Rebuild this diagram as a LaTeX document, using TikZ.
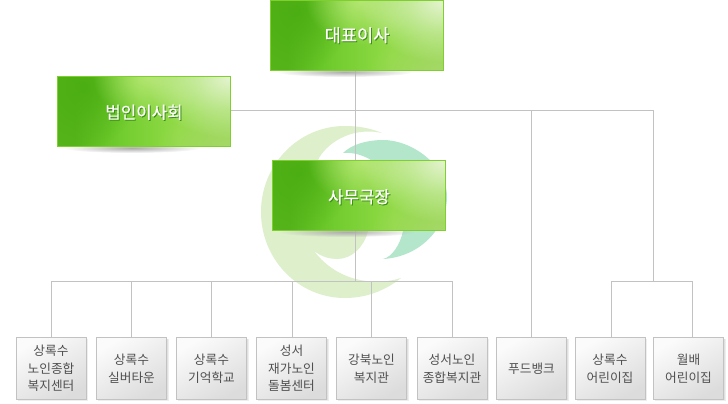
\documentclass[tikz,border=0pt]{standalone}
\usepackage{fontspec}
\setmainfont{Noto Sans CJK KR}
\newfontface\titlefont[FakeBold=0.5]{Noto Sans CJK KR}
\usetikzlibrary{fadings,backgrounds,calc}
\definecolor{linegray}{HTML}{C2C2C2}
\definecolor{logogreen}{HTML}{DDEFCB}
\definecolor{logoteal}{HTML}{B4E6CC}
\definecolor{gdark}{HTML}{4BAE13}
\definecolor{gleft}{HTML}{55B41A}
\definecolor{gaa}{HTML}{6FCB2D}
\definecolor{gbb}{HTML}{92DB47}
\definecolor{gcc}{HTML}{96D84A}
\definecolor{gmid}{HTML}{B4E672}
\definecolor{gpale}{HTML}{E6F4D2}
\definecolor{gside}{HTML}{A6D869}
\definecolor{gborder}{HTML}{7FD02F}
\definecolor{smalltext}{HTML}{505050}
\definecolor{tshadow}{HTML}{3F8F18}
\definecolor{smalltop}{HTML}{FBFBFB}
\definecolor{smallbot}{HTML}{DCDCDC}
\pgfdeclarehorizontalshading{gbase}{100bp}{color(0bp)=(gleft);color(30bp)=(gleft);color(42bp)=(gaa);color(60bp)=(gbb);color(100bp)=(gcc)}
\tikzfading[name=softfade, inner color=transparent!0, outer color=transparent!100]
\newcommand{\shtext}[1]{\rlap{\kern1pt\lower1pt\hbox{\color{tshadow}#1}}#1}
\tikzset{
  x=1pt,y=-1pt,
  greenbox/.style={anchor=north west,minimum width=173pt,minimum height=70pt,inner sep=0pt,draw=gborder,line width=1pt,text=white,
    font=\fontsize{16.8}{20}\titlefont,
    path picture={
      \shade[shading=gbase] (path picture bounding box.south west) rectangle (path picture bounding box.north east);
      \fill[gdark,path fading=softfade] ([shift={(26,10)}]path picture bounding box.north west) ellipse [x radius=55pt,y radius=62pt];
      \fill[gmid,path fading=softfade] ([shift={(90,0)}]path picture bounding box.north west) ellipse [x radius=55pt,y radius=45pt];
      \fill[gside,path fading=softfade] (path picture bounding box.south east) ellipse [x radius=75pt,y radius=40pt];
      \fill[gpale,path fading=softfade] (path picture bounding box.north east) ellipse [x radius=85pt,y radius=62pt];
    }},
  smallbox/.style={anchor=north west,minimum width=70pt,minimum height=62pt,inner sep=0pt,draw=linegray,line width=1pt,
    top color=smalltop,bottom color=smallbot,shading angle=30,text=smalltext,align=center,
    font=\fontsize{12.7}{17.5}\selectfont},
  boxshadow/.style={draw=none,fill=black!45,opacity=.14},
  softshadow/.style={fill=black!32,path fading=softfade},
  link/.style={draw=linegray,line width=1pt},
}
\begin{document}
\begin{tikzpicture}
\useasboundingbox (0,0) rectangle (728,404);
\node[greenbox] (ceo) at (270,0) {\raisebox{0pt}[13.2pt][0.8pt]{\shtext{\fontsize{17.6}{20}\titlefont 대표이사}}};
\node[greenbox] (board) at (57,76) {\raisebox{0pt}[15pt][0.8pt]{\shtext{법인이사회}}};
\node[greenbox] (office) at (272,160) {\raisebox{0pt}[16pt][0.8pt]{\shtext{사무국장}}};
\foreach \nm/\xx/\txt in {
  s1/15.5/{상록수\\노인종합\\복지센터},
  s2/96/{상록수\\실버타운},
  s3/176/{상록수\\기억학교},
  s4/256/{성서\\재가노인\\돌봄센터},
  s5/336/{강북노인\\복지관},
  s6/416.5/{성서노인\\종합복지관},
  s7/496/{푸드뱅크},
  s8/574.5/{상록수\\어린이집},
  s9/653/{월배\\어린이집}}{
  \fill[boxshadow] (\xx+2,339) rectangle (\xx+72.5,401);
  \fill[boxshadow] (\xx+2,339) rectangle (\xx+71.5,400);
  \fill[boxshadow] (\xx+2,339) rectangle (\xx+70.5,399.5);
  \node[smallbox] (\nm) at (\xx,337) {\txt};
}
\coordinate (trunk) at (355,281.5);
\coordinate (rightbus) at (653.5,110.5);
\coordinate (food) at (531.5,110.5);
\coordinate (leftend) at (51.5,281.5);
\coordinate (rightend) at (452.5,281.5);
\coordinate (kidsl) at (611,281.5);
\coordinate (kidsr) at (692,281.5);
\coordinate (kidsm) at (653.5,281.5);
\coordinate (care) at (292.5,281.5);
\begin{scope}[on background layer]
  \fill[white] (0,0) rectangle (728,404);
  \fill[logogreen] (382,133) .. controls (370,128) and (358,126) .. (345,126)
    .. controls (298,126) and (261,165) .. (261,212)
    .. controls (261,259) and (298,298) .. (345,298)
    .. controls (367,298) and (386,290) .. (401,278)
    .. controls (380,285) and (340,285) .. (314,251)
    .. controls (322,257) and (330,259) .. (337,259)
    .. controls (352,259) and (364,247) .. (368,231)
    .. controls (370,200) and (320,190) .. (318,160)
    .. controls (325,145) and (350,126) .. (382,133) -- cycle;
  \fill[logoteal] (343,153) .. controls (352,144) and (368,140) .. (383,140)
    .. controls (412,140) and (447,165) .. (447,197)
    .. controls (447,228) and (420,257) .. (383,259)
    .. controls (392,257) and (400,245) .. (403,231)
    .. controls (410,195) and (380,150) .. (343,153) -- cycle;
  \draw[link] (board.east |- rightbus) -- (rightbus) -- (kidsm);
  \draw[link] (trunk |- ceo.south) -- (trunk);
  \draw[link] (leftend |- s1.north) -- (leftend) -- (rightend) -- (rightend |- s6.north);
  \draw[link] (s2.north |- trunk) -- (s2.north);
  \draw[link] (s3.north |- trunk) -- (s3.north);
  \draw[link] (care) -- (care |- s4.north);
  \draw[link] (s5.north |- trunk) -- (s5.north);
  \draw[link] (food) -- (food |- s7.north);
  \draw[link] (kidsl |- s8.north) -- (kidsl) -- (kidsr) -- (kidsr |- s9.north);
  \fill[softshadow] ([shift={(75,1)}]ceo.south west) ellipse [x radius=68pt,y radius=5pt];
  \fill[softshadow] ([shift={(75,1)}]board.south west) ellipse [x radius=68pt,y radius=5pt];
  \fill[softshadow] ([shift={(75,1)}]office.south west) ellipse [x radius=68pt,y radius=5pt];
\end{scope}
\end{tikzpicture}
\end{document}
